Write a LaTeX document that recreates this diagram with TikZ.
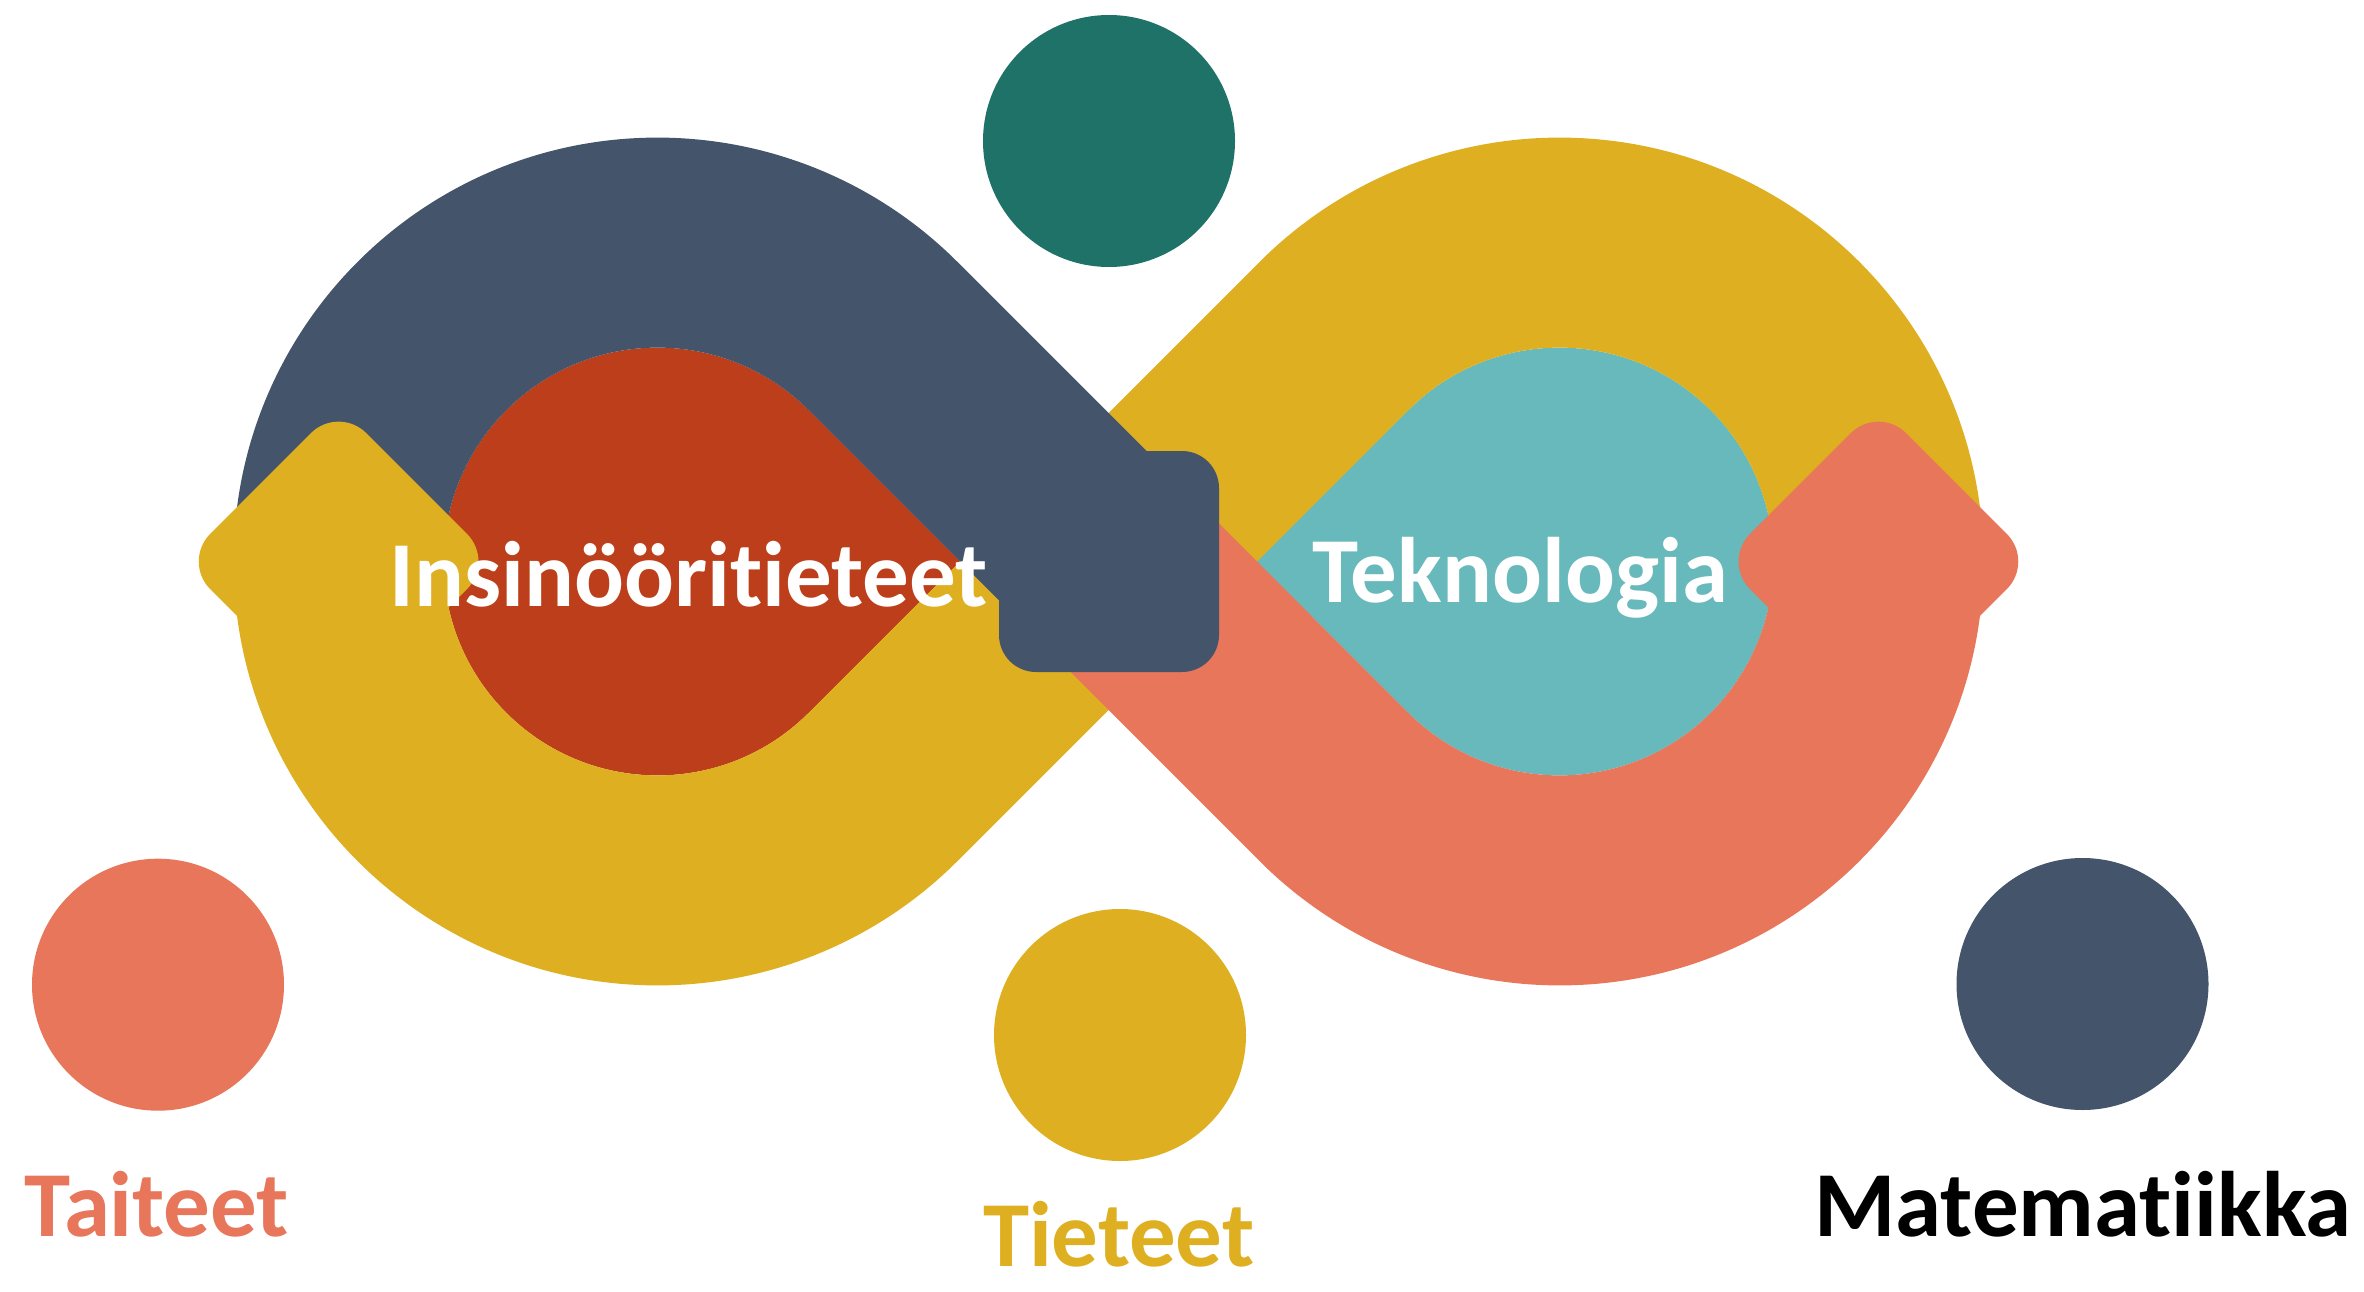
\documentclass[tikz,border=0pt]{standalone}
\usepackage{fontspec}
\setmainfont{Carlito}[Ligatures={NoCommon}]
\definecolor{navy}{HTML}{44546A}
\definecolor{gold}{HTML}{DEB021}
\definecolor{coral}{HTML}{E7765A}
\definecolor{rust}{HTML}{BC3E1A}
\definecolor{aqua}{HTML}{67B9BC}
\definecolor{pine}{HTML}{1E7268}
\begin{document}
\begin{tikzpicture}[x=1pt,y=-1pt,
  lbl/.style={inner sep=0pt, anchor=base, font=\bfseries\fontsize{93}{100}\selectfont},
  dot/.style={circle, inner sep=0pt, minimum size=252pt}]
\useasboundingbox (0,0) rectangle (2364,1292);
% inner teardrops
\fill[rust] (960.02,561.5) -- (808.76,410.24) arc[start angle=315, end angle=45, radius=213.91] -- cycle;
\fill[aqua] (1256.98,561.5) -- (1408.24,410.24) arc[start angle=225, end angle=495, radius=213.91] -- cycle;
% yellow band
\fill[gold] (233.59,561.5) arc[start angle=180, end angle=45, radius=423.91] -- (1408.24,410.24)
  arc[start angle=225, end angle=360, radius=213.91] -- (1983.41,561.5)
  arc[start angle=360, end angle=225, radius=423.91] -- (808.76,712.76)
  arc[start angle=45, end angle=180, radius=213.91] -- cycle;
% navy band
\fill[navy] (233.59,561.5) arc[start angle=180, end angle=315, radius=423.91] -- (1182.75,487.25)
  -- (1034.25,635.75) -- (808.76,410.24) arc[start angle=315, end angle=180, radius=213.91] -- cycle;
% coral band
\fill[coral] (1182.75,487.25) -- (1408.24,712.76) arc[start angle=135, end angle=0, radius=213.91]
  -- (1983.41,561.5) arc[start angle=0, end angle=135, radius=423.91] -- (1034.25,635.75) -- cycle;
% arrowheads
\fill[gold, rounded corners=39pt] (338.59,405.5) -- (494.59,561.5) -- (338.59,717.5) -- (182.59,561.5) -- cycle;
\fill[coral, rounded corners=39pt] (1878.41,405.5) -- (2034.41,561.5) -- (1878.41,717.5) -- (1722.41,561.5) -- cycle;
% centre block
\fill[navy, rounded corners=37pt] (999,451) rectangle (1219,672);
% labels inside
\node[lbl, text=white] (ins) at (688.5,606) {Insinööritieteet};
\node[lbl, text=white] (tek) at (1520.3,602.4) {Teknologia};
% small circles
\node[dot, fill=pine] (top) at (1109,141) {};
\node[dot, fill=coral] (arts) at (158,984.7) {};
\node[dot, fill=gold] (sci) at (1120,1035) {};
\node[dot, fill=navy] (math) at (2082.5,984) {};
% bottom labels
\node[lbl, text=coral] (tai) at (157,1236.7) {Taiteet};
\node[lbl, text=gold] (tie) at (1118.7,1266) {Tieteet};
\node[lbl, text=black] (mat) at (2083,1236.7) {Matematiikka};
\end{tikzpicture}
\end{document}
